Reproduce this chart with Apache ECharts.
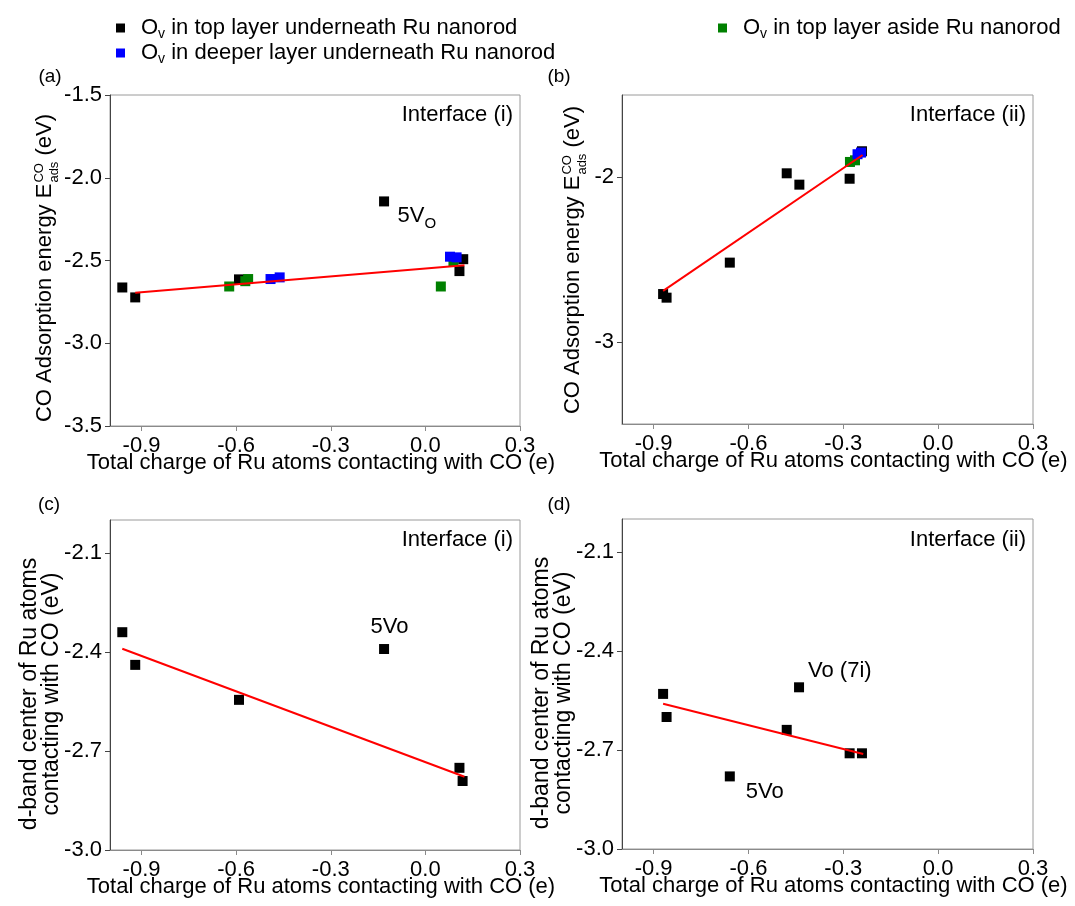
<!DOCTYPE html>
<html>
<head>
<meta charset="utf-8">
<script src="https://cdn.jsdelivr.net/npm/echarts@6/dist/echarts.min.js"></script>
<style>
  html, body { margin: 0; padding: 0; background: #fff; }
  #chart { width: 1075px; height: 906px; }
</style>
</head>
<body>
<div id="chart"></div>
<script>
// ---- data: [charge (e), energy (eV)] ----
// (a) CO adsorption energy, interface (i)
const aTopUnder  = [[-0.961,-2.663],[-0.920,-2.723],[-0.591,-2.614],[-0.131,-2.143],[0.120,-2.492],[0.108,-2.564]];
const aTopAside  = [[-0.622,-2.657],[-0.571,-2.625],[-0.562,-2.612],[0.049,-2.657],[0.089,-2.508]];
const aDeepUnder = [[-0.491,-2.612],[-0.462,-2.602],[0.078,-2.477],[0.099,-2.481]];
const aFit       = [[-0.920,-2.695],[0.124,-2.528]];
// (b) CO adsorption energy, interface (ii)
const bTopUnder  = [[-0.870,-2.710],[-0.859,-2.732],[-0.659,-2.519],[-0.479,-1.976],[-0.439,-2.045],[-0.280,-2.009],[-0.241,-1.842]];
const bTopAside  = [[-0.279,-1.907],[-0.263,-1.897]];
const bDeepUnder = [[-0.255,-1.860],[-0.244,-1.850]];
const bFit       = [[-0.870,-2.691],[-0.239,-1.865]];
// (c) d-band center, interface (i)
const cTopUnder  = [[-0.961,-2.340],[-0.920,-2.439],[-0.591,-2.545],[-0.131,-2.391],[0.108,-2.751],[0.118,-2.791]];
const cFit       = [[-0.961,-2.390],[0.124,-2.778]];
// (d) d-band center, interface (ii)
const dTopUnder  = [[-0.870,-2.530],[-0.859,-2.600],[-0.659,-2.780],[-0.479,-2.639],[-0.440,-2.510],[-0.280,-2.710],[-0.241,-2.710]];
const dFit       = [[-0.870,-2.560],[-0.237,-2.712]];

// ---- tick labels ----
const xTicks     = [-0.9, -0.6, -0.3, 0.0, 0.3];
const yTicksAds  = [-3.5, -3.0, -2.5, -2.0, -1.5];
const yTicksAds2 = [-3, -2];
const yTicksD    = [-3.0, -2.7, -2.4, -2.1];

// ---- series names ----
const NAME_TOP   = 'Ov in top layer underneath Ru nanorod';
const NAME_DEEP  = 'Ov in deeper layer underneath Ru nanorod';
const NAME_ASIDE = 'Ov in top layer aside Ru nanorod';

const FONT = 'Liberation Sans, Arial, sans-serif';
const BLACK = '#000000', BLUE = '#0000ff', GREEN = '#008000', RED = '#ff0000';

const measure = (() => {
  const ctx = document.createElement('canvas').getContext('2d');
  return (t, size) => { ctx.font = size + 'px "Liberation Sans"'; return ctx.measureText(t).width; };
})();

const fmt1 = v => (Math.abs(v) < 1e-9 ? 0 : v).toFixed(1);
const fmt0 = v => (Math.abs(v) < 1e-9 ? 0 : v).toFixed(0);

const grids = [
  { left: 110, top: 95,  width: 410, height: 331 },
  { left: 622, top: 95,  width: 411, height: 329 },
  { left: 110, top: 520, width: 410, height: 330 },
  { left: 622, top: 519, width: 411, height: 330 }
].map(g => Object.assign(g, { show: true, borderColor: '#9a9a9a', borderWidth: 1, containLabel: false }));

function xAxis(i) {
  return {
    type: 'value', gridIndex: i, min: -1.0, max: 0.3,
    axisLine: { show: true, onZero: false, lineStyle: { color: '#8a8a8a', width: 1 } },
    axisTick: { show: true, inside: false, length: 5, customValues: xTicks, lineStyle: { color: '#8a8a8a' } },
    axisLabel: { customValues: xTicks, formatter: fmt1, fontSize: 22, color: '#000', fontFamily: FONT, margin: 9 },
    splitLine: { show: false },
    name: 'Total charge of Ru atoms contacting with CO (e)',
    nameLocation: 'middle', nameGap: 26, nameMoveOverlap: false,
    nameTextStyle: { fontSize: 22, color: '#000', fontFamily: FONT, padding: [0, 0, 0, 12] }
  };
}

function yAxis(i, min, max, ticks, formatter, name) {
  const ax = {
    type: 'value', gridIndex: i, min: min, max: max,
    axisLine: { show: true, onZero: false, lineStyle: { color: '#444', width: 1 } },
    axisTick: { show: true, inside: false, length: 5, customValues: ticks, lineStyle: { color: '#444' } },
    axisLabel: { customValues: ticks, formatter: formatter, fontSize: 22, color: '#000', fontFamily: FONT, margin: 8 },
    splitLine: { show: false }
  };
  if (name) {
    Object.assign(ax, {
      name: name, nameLocation: 'middle', nameRotate: 90, nameGap: 47, nameMoveOverlap: false,
      nameTextStyle: { fontSize: 23, color: '#000', fontFamily: FONT, lineHeight: 22, align: 'center', padding: [0, 18, 0, 0] }
    });
  }
  return ax;
}

const dbandName = 'd-band center of Ru atoms\ncontacting with CO (eV)';

// rich label text for the annotated points
const noteRich = {
  m: { fontSize: 22, color: '#000', fontFamily: FONT },
  s: { fontSize: 15, color: '#000', fontFamily: FONT, padding: [14, 0, 0, 0] }
};

function withNotes(data, notes) {
  return data.map((p, k) => {
    const n = notes[k];
    if (!n) return p;
    return {
      value: p,
      label: {
        show: true, formatter: n.text, position: n.pos, align: 'left', verticalAlign: 'middle',
        rich: noteRich, fontSize: 22, color: '#000', fontFamily: FONT
      }
    };
  });
}

function scatter(name, data, color, i) {
  return {
    type: 'scatter', name: name, xAxisIndex: i, yAxisIndex: i, data: data,
    symbol: 'rect', symbolSize: 10, itemStyle: { color: color, opacity: 1 },
    label: { show: false }, emphasis: { disabled: true }, z: 2
  };
}

function fitLine(data, i) {
  return {
    type: 'line', xAxisIndex: i, yAxisIndex: i, data: data, symbol: 'none',
    lineStyle: { color: RED, width: 2 }, emphasis: { disabled: true }, z: 3, silent: true
  };
}

const series = [
  scatter(NAME_TOP, withNotes(aTopUnder, { 3: { text: '{m|5V}{s|O}', pos: [18.5, 20] } }), BLACK, 0),
  scatter(NAME_ASIDE, aTopAside, GREEN, 0),
  scatter(NAME_DEEP, aDeepUnder, BLUE, 0),
  fitLine(aFit, 0),

  scatter(NAME_TOP, bTopUnder, BLACK, 1),
  scatter(NAME_ASIDE, bTopAside, GREEN, 1),
  scatter(NAME_DEEP, bDeepUnder, BLUE, 1),
  fitLine(bFit, 1),

  scatter(NAME_TOP, withNotes(cTopUnder, { 3: { text: '5Vo', pos: [-8.5, -17.5] } }), BLACK, 2),
  fitLine(cFit, 2),

  scatter(NAME_TOP, withNotes(dTopUnder, {
    2: { text: '5Vo', pos: [21, 20.5] },
    4: { text: 'Vo (7i)', pos: [14, -11.5] }
  }), BLACK, 3),
  fitLine(dFit, 3)
];

// legend entries: "O" with subscript "v"
const legendRich = {
  m: { fontSize: 22, color: '#000', fontFamily: FONT },
  s: { fontSize: 14, color: '#000', fontFamily: FONT, padding: [12, 0, 0, 0] }
};
const legendFmt = name => '{m|O}{s|v}{m|' + name.slice(2) + '}';
function legend(name, left, top) {
  return {
    data: [name], left: left, top: top, orient: 'horizontal',
    icon: 'rect', itemWidth: 9, itemHeight: 9, itemGap: 0,
    formatter: legendFmt, selectedMode: false,
    textStyle: { rich: legendRich, padding: [0, 0, 0, 11] }
  };
}

// y-axis title with stacked super/subscript: E^CO_ads
function energyTitle(cx, cy) {
  const main = 'CO Adsorption energy E', tail = ' (eV)';
  const w1 = measure(main, 22);
  const ws = Math.max(measure('CO', 13), measure('ads', 13));
  const w3 = measure(tail, 22);
  const x0 = -(w1 + 1 + ws + w3) / 2;
  const st = (text, size) => ({ text: text, fontSize: size, fontFamily: FONT, fill: '#000', align: 'left', verticalAlign: 'middle' });
  return {
    type: 'group', x: cx, y: cy, rotation: Math.PI / 2,
    children: [
      { type: 'text', x: x0, y: 0, style: st(main, 22) },
      { type: 'text', x: x0 + w1 + 1, y: -5.5, style: st('CO', 13) },
      { type: 'text', x: x0 + w1 + 1, y: 9.5, style: st('ads', 13) },
      { type: 'text', x: x0 + w1 + 1 + ws, y: 0, style: st(tail, 22) }
    ]
  };
}

function plainText(text, x, y, size, align) {
  return { type: 'text', x: x, y: y, style: { text: text, fontSize: size, fontFamily: FONT, fill: '#000', align: align, verticalAlign: 'middle' } };
}

const graphic = [
  energyTitle(45, 268),
  energyTitle(573, 260),
  plainText('Interface (i)', 513, 115, 22, 'right'),
  plainText('Interface (ii)', 1026, 115, 22, 'right'),
  plainText('Interface (i)', 513, 540, 22, 'right'),
  plainText('Interface (ii)', 1026, 540, 22, 'right'),
  plainText('(a)', 50, 77, 19, 'center'),
  plainText('(b)', 559, 77, 19, 'center'),
  plainText('(c)', 49, 505, 19, 'center'),
  plainText('(d)', 559, 505, 19, 'center')
];

const chart = echarts.init(document.getElementById('chart'), null, { renderer: 'canvas' });
chart.setOption({
  backgroundColor: '#ffffff',
  animation: false,
  textStyle: { fontFamily: FONT },
  grid: grids,
  xAxis: [0, 1, 2, 3].map(xAxis),
  yAxis: [
    yAxis(0, -3.5, -1.5, yTicksAds, fmt1, null),
    yAxis(1, -3.5, -1.5, yTicksAds2, fmt0, null),
    yAxis(2, -3.0, -2.0, yTicksD, fmt1, dbandName),
    yAxis(3, -3.0, -2.0, yTicksD, fmt1, dbandName)
  ],
  legend: [
    legend(NAME_TOP, 111, 12),
    legend(NAME_DEEP, 111, 37),
    legend(NAME_ASIDE, 713, 12)
  ],
  graphic: graphic,
  series: series
});
</script>
</body>
</html>
